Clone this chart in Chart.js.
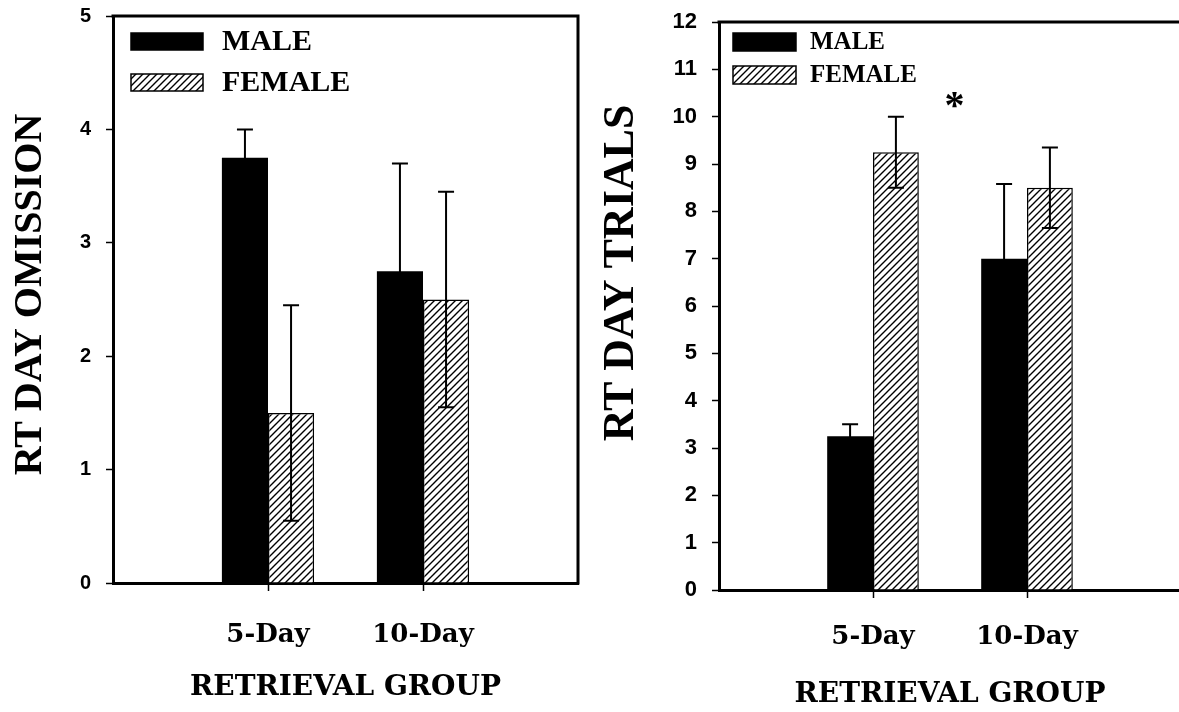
<!DOCTYPE html>
<html>
<head>
<meta charset="utf-8">
<script src="https://cdn.jsdelivr.net/npm/chart.js@4.4.1/dist/chart.umd.min.js"></script>
<style>
html, body { margin: 0; padding: 0; background: #fff; overflow: hidden; }
#left { position: absolute; left: 0; top: 0; }
#right { position: absolute; left: 600px; top: 0; }
</style>
</head>
<body>
<canvas id="left" width="600" height="712"></canvas>
<canvas id="right" width="600" height="712"></canvas>
<script>
// data
const groups = ['5-Day', '10-Day'];
const seriesNames = ['MALE', 'FEMALE'];

const omissionMale = [3.75, 2.75];
const omissionMaleErr = [0.25, 0.95];
const omissionFemale = [1.5, 2.5];
const omissionFemaleErr = [0.95, 0.95];

const trialsMale = [3.25, 7.0];
const trialsMaleErr = [0.25, 1.58];
const trialsFemale = [9.25, 8.5];
const trialsFemaleErr = [0.75, 0.85];

const yTicksOmission = [0, 1, 2, 3, 4, 5];
const yTicksTrials = [0, 1, 2, 3, 4, 5, 6, 7, 8, 9, 10, 11, 12];

// empty slot on each side so the groups sit at 1/3 and 2/3 of the axis
const axisLabels = ['', ...groups, ''];
const pad = arr => [null, ...arr, null];

// diagonal hatch for the female bars
function makeHatch() {
    const c = document.createElement('canvas');
    c.width = 7; c.height = 7;
    const g = c.getContext('2d');
    g.fillStyle = '#fff';
    g.fillRect(0, 0, 7, 7);
    g.strokeStyle = '#000';
    g.lineWidth = 1.4;
    g.beginPath();
    g.moveTo(-1, 8); g.lineTo(8, -1);
    g.moveTo(-2, 2); g.lineTo(2, -2);
    g.moveTo(5, 9); g.lineTo(9, 5);
    g.stroke();
    return g.createPattern(c, 'repeat');
}
const hatch = makeHatch();

const framePlugin = {
    id: 'frame',
    afterDraw(chart) {
        const a = chart.chartArea, ctx = chart.ctx;
        ctx.save();
        ctx.strokeStyle = '#000';
        ctx.lineWidth = 3;
        ctx.beginPath();
        ctx.moveTo(a.left - 1.5, a.top);
        ctx.lineTo(a.right, a.top);
        ctx.lineTo(a.right, a.bottom + 1.5);
        ctx.stroke();
        ctx.restore();
    }
};

const errorBarPlugin = {
    id: 'errorBars',
    afterDatasetsDraw(chart) {
        const ctx = chart.ctx, y = chart.scales.y;
        ctx.save();
        ctx.strokeStyle = '#000';
        ctx.lineWidth = 2;
        chart.data.datasets.forEach((ds, i) => {
            const meta = chart.getDatasetMeta(i);
            meta.data.forEach((bar, j) => {
                const v = ds.data[j], e = ds.errors[j];
                if (v == null || e == null) return;
                const top = y.getPixelForValue(v + e);
                const bot = y.getPixelForValue(v - e);
                ctx.beginPath();
                ctx.moveTo(bar.x, top); ctx.lineTo(bar.x, bot);
                ctx.moveTo(bar.x - 8, top); ctx.lineTo(bar.x + 8, top);
                ctx.moveTo(bar.x - 8, bot); ctx.lineTo(bar.x + 8, bot);
                ctx.stroke();
            });
        });
        ctx.restore();
    }
};

const insideLegendPlugin = {
    id: 'insideLegend',
    afterDraw(chart, args, o) {
        const a = chart.chartArea, ctx = chart.ctx;
        ctx.save();
        chart.data.datasets.forEach((ds, i) => {
            const x = a.left + o.ox, yy = a.top + o.oy + i * o.step;
            ctx.fillStyle = ds.backgroundColor;
            ctx.fillRect(x, yy, o.boxW, o.boxH);
            ctx.strokeStyle = '#000';
            ctx.lineWidth = 1.5;
            ctx.strokeRect(x, yy, o.boxW, o.boxH);
            ctx.fillStyle = '#000';
            ctx.font = 'bold ' + o.size + 'px "Liberation Serif"';
            ctx.textBaseline = 'middle';
            ctx.textAlign = 'left';
            ctx.fillText(ds.label, x + o.boxW + o.gap, yy + o.boxH / 2 + 1);
        });
        ctx.restore();
    }
};

const starPlugin = {
    id: 'star',
    afterDraw(chart, args, o) {
        if (!o.text) return;
        const ctx = chart.ctx;
        const px = chart.scales.x.getPixelForValue(o.x);
        const py = chart.scales.y.getPixelForValue(o.y);
        ctx.save();
        ctx.fillStyle = '#000';
        ctx.font = 'bold ' + o.size + 'px "Liberation Serif"';
        ctx.textAlign = 'center';
        ctx.textBaseline = 'alphabetic';
        const m = ctx.measureText(o.text);
        const mid = (m.actualBoundingBoxAscent - m.actualBoundingBoxDescent) / 2;
        ctx.fillText(o.text, px, py + mid);
        ctx.restore();
    }
};

function buildChart(id, p) {
    return new Chart(document.getElementById(id), {
        type: 'bar',
        data: {
            labels: axisLabels,
            datasets: [{
                label: seriesNames[0],
                data: pad(p.male),
                errors: pad(p.maleErr),
                backgroundColor: '#000',
                borderWidth: 0
            }, {
                label: seriesNames[1],
                data: pad(p.female),
                errors: pad(p.femaleErr),
                backgroundColor: hatch,
                borderColor: '#000',
                borderWidth: 1.5
            }]
        },
        options: {
            responsive: false,
            animation: false,
            layout: { padding: { top: p.top, right: p.right, left: 0, bottom: 0 } },
            datasets: { bar: { barPercentage: 1, categoryPercentage: 0.595 } },
            plugins: {
                legend: { display: false },
                tooltip: { enabled: false },
                insideLegend: p.legend,
                star: p.star || {}
            },
            scales: {
                x: {
                    offset: false,
                    grid: {
                        offset: false,
                        drawOnChartArea: false,
                        tickLength: 8,
                        tickWidth: 1.5,
                        tickColor: c => axisLabels[c.index] ? '#000' : 'rgba(0,0,0,0)'
                    },
                    border: { color: '#000', width: 3 },
                    ticks: {
                        color: '#000',
                        padding: p.xTickPad,
                        autoSkip: false,
                        maxRotation: 0,
                        font: { family: 'DejaVu Serif', weight: 'bold', size: 26 }
                    },
                    title: {
                        display: true,
                        text: 'RETRIEVAL GROUP',
                        color: '#000',
                        font: { family: 'DejaVu Serif', weight: 'bold', size: 28, lineHeight: 1.2 },
                        padding: { top: 0, bottom: p.xTitlePad }
                    },
                    afterFit: s => {
                        s.height = p.xHeight;
                        s.paddingLeft = 0;
                        s.paddingRight = 0;
                    }
                },
                y: {
                    min: 0,
                    max: p.yTicks[p.yTicks.length - 1],
                    afterBuildTicks: s => { s.ticks = p.yTicks.map(v => ({ value: v })); },
                    grid: { drawOnChartArea: false, tickLength: 7, tickWidth: 1.5, tickColor: '#000' },
                    border: { color: '#000', width: 3 },
                    ticks: {
                        color: '#000',
                        padding: 15,
                        font: { family: 'Liberation Sans', weight: 'bold', size: p.yTickSize }
                    },
                    title: {
                        display: true,
                        text: p.yTitle,
                        color: '#000',
                        font: { family: 'Liberation Serif', weight: 'bold', size: p.yTitleSize, lineHeight: 1 },
                        padding: { top: p.yTitlePad, bottom: 0 }
                    },
                    afterFit: s => {
                        s.width = p.yWidth;
                        s.paddingTop = 0;
                        s.paddingBottom = 0;
                    }
                }
            }
        },
        plugins: [framePlugin, errorBarPlugin, insideLegendPlugin, starPlugin]
    });
}

buildChart('left', {
    male: omissionMale, maleErr: omissionMaleErr,
    female: omissionFemale, femaleErr: omissionFemaleErr,
    yTicks: yTicksOmission,
    yTitle: ' RT DAY OMISSION',
    yTitleSize: 40, yTitlePad: 11, yTickSize: 20,
    top: 16, right: 22, yWidth: 113, xHeight: 129,
    xTickPad: 29, xTitlePad: 7,
    legend: { ox: 18, oy: 17, boxW: 72, boxH: 17, gap: 19, step: 41, size: 30 }
});

// the original title sits above the axis middle; leading spaces lift it
buildChart('right', {
    male: trialsMale, maleErr: trialsMaleErr,
    female: trialsFemale, femaleErr: trialsFemaleErr,
    yTicks: yTicksTrials,
    yTitle: '      RT DAY TRIALS',
    yTitleSize: 44, yTitlePad: 0, yTickSize: 22,
    top: 22, right: 19, yWidth: 119, xHeight: 122,
    xTickPad: 24, xTitlePad: 0,
    legend: { ox: 14, oy: 11, boxW: 63, boxH: 18, gap: 14, step: 33, size: 25 },
    star: { text: '*', x: 1.53, y: 10.36, size: 40 }
});
</script>
</body>
</html>
